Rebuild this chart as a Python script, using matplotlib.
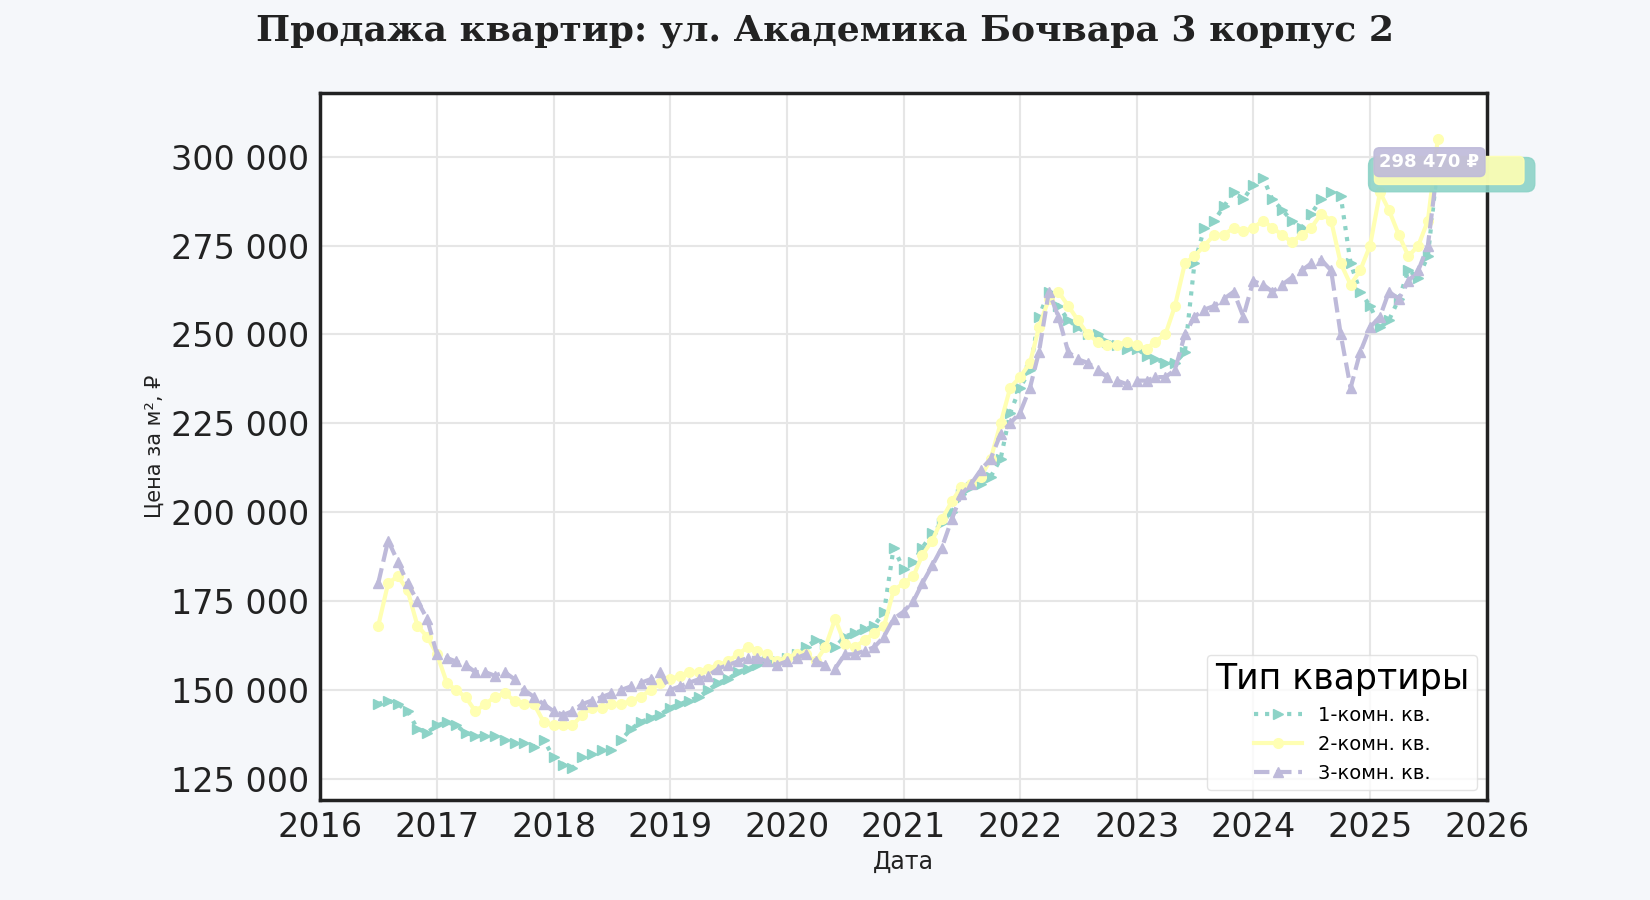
import matplotlib
matplotlib.use("Agg")
import matplotlib.pyplot as plt
import numpy as np
import pandas as pd

dates = pd.date_range("2016-06-15", periods=110, freq="MS")

one_room = [146,147,146,144,139,138,140,
 141,140,138,137,137,137,136,135,135,134,136,131,
 129,128,131,132,133,133,136,139,141,142,143,145,
 146,147,148,150,152,153,155,156,157,158,158,159,
 160,162,164,163,162,165,166,167,168,172,190,184,
 186,190,194,197,200,205,207,208,210,215,228,235,
 240,255,262,258,254,252,250,250,248,247,246,246,
 244,243,242,242,245,270,280,282,286,290,288,292,
 294,288,285,282,280,284,288,290,289,270,262,258,
 252,254,260,268,266,272,298]
two_room = [168,180,182,178,168,165,160,
 152,150,148,144,146,148,149,147,146,146,141,140,
 140,140,143,145,145,146,146,147,148,150,152,153,
 154,155,155,156,157,158,160,162,161,160,158,159,
 160,160,158,162,170,163,162,164,166,168,178,180,
 182,188,192,198,203,207,208,210,215,225,235,238,
 242,252,260,262,258,254,250,248,247,247,248,247,
 246,248,250,258,270,272,275,278,278,280,279,280,
 282,280,278,276,278,280,284,282,270,264,268,275,
 290,285,278,272,275,282,305]
three_room = [180,192,186,180,175,170,160,
 159,158,157,155,155,154,155,153,150,148,146,144,
 143,144,146,147,148,149,150,151,152,153,155,150,
 151,152,153,154,156,157,158,159,159,158,157,158,
 159,160,158,157,156,160,160,161,162,165,170,172,
 175,180,185,190,198,205,208,212,215,222,225,228,
 235,245,262,255,245,243,242,240,238,237,236,237,
 237,238,238,240,250,255,257,258,260,262,255,265,
 264,262,264,266,268,270,271,268,250,235,245,252,
 255,262,260,265,268,275,298]

labels = ["1-комн. кв.", "2-комн. кв.", "3-комн. кв."]
colors = ["#8dd3c7", "#ffffb3", "#bebada"]
styles = [":", "-", "--"]
markers = [">", "o", "^"]
last_label = "298 470 ₽"
last_value = 298470

bg = "#f5f7fa"
fig = plt.figure(figsize=(16.5, 9), dpi=100, facecolor=bg)
ax = fig.add_axes([0.194, 0.111, 0.707, 0.786])
ax.set_facecolor("white")

series = [np.array(one_room)*1000, np.array(two_room)*1000, np.array(three_room)*1000]
for s, lab, c, ls, mk in zip(series, labels, colors, styles, markers):
    ax.plot(dates, s, linestyle=ls, color=c, marker=mk, markersize=7, lw=3, label=lab)

ax.set_xlim(pd.Timestamp("2016-01-01"), pd.Timestamp("2026-01-01"))
ax.set_ylim(119000, 318000)
ax.set_yticks(np.arange(125000, 300001, 25000))
ax.yaxis.set_major_formatter(matplotlib.ticker.FuncFormatter(lambda v, p: f"{int(v):,}".replace(",", " ")))
ax.xaxis.set_major_locator(matplotlib.dates.YearLocator())
ax.xaxis.set_major_formatter(matplotlib.dates.DateFormatter("%Y"))
ax.tick_params(labelsize=24, colors="#222222", length=0, pad=8)
ax.grid(True, color="#e6e6e6", lw=1.5)
for sp in ax.spines.values():
    sp.set_linewidth(2.5)
    sp.set_color("#222222")

ax.set_xlabel("Дата", fontsize=17, color="#222222", labelpad=4)
ax.set_ylabel("Цена за м², ₽", fontsize=15, color="#222222")
fig.suptitle("Продажа квартир: ул. Академика Бочвара 3 корпус 2", fontsize=26,
             fontweight="bold", family="DejaVu Serif", color="#222222", y=0.985)

xd = dates[-1]
# background boxes (teal, yellow), then labelled purple box
blank = "\u2007" * 12
ax.annotate(blank, xy=(xd, last_value), xytext=(-44, -9), textcoords="offset points",
            fontsize=13, fontweight="bold", ha="left", va="center",
            bbox=dict(boxstyle="round,pad=0.45", fc=colors[0], ec=colors[0], alpha=0.9))
ax.annotate(blank, xy=(xd, last_value), xytext=(-42, -6), textcoords="offset points",
            fontsize=12, fontweight="bold", ha="left", va="center",
            bbox=dict(boxstyle="round,pad=0.3", fc=colors[1], ec=colors[1], alpha=0.9))
ax.annotate(last_label, xy=(xd, last_value), xytext=(-42, 0), textcoords="offset points",
            fontsize=13, fontweight="bold", color="white", ha="left", va="center",
            bbox=dict(boxstyle="round,pad=0.3", fc=colors[2], ec=colors[2], alpha=0.9))

leg = ax.legend(title="Тип квартиры", loc="lower right", fontsize=14, title_fontsize=25,
                frameon=True, facecolor="white", edgecolor="#dddddd", handlelength=2.5)
plt.savefig("out.png", facecolor=bg)
